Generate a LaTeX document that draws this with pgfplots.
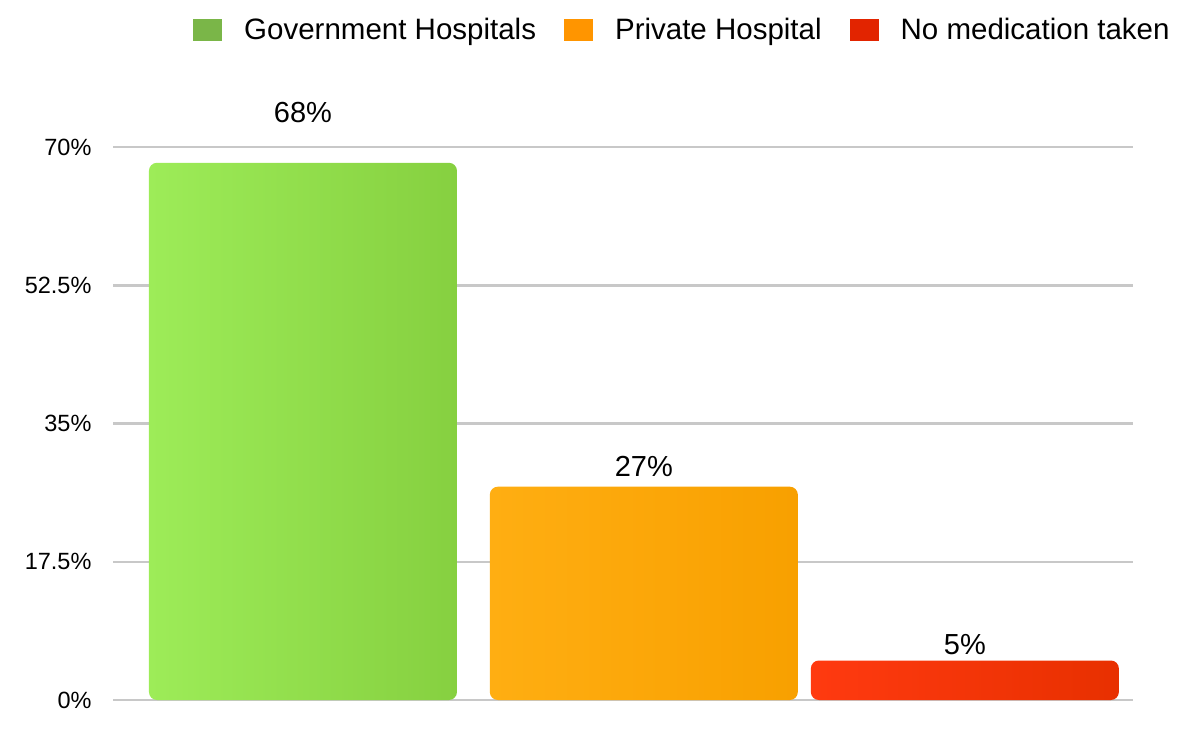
\documentclass[border=0pt]{standalone}
\usepackage{pgfplots}
\pgfplotsset{compat=1.18}
\usepackage{fontspec}
\setmainfont{Liberation Sans}
\definecolor{gbar}{HTML}{9DEC58}
\definecolor{gbardark}{HTML}{86D040}
\definecolor{obar}{HTML}{FFAE12}
\definecolor{obardark}{HTML}{F8A000}
\definecolor{rbar}{HTML}{FF3A10}
\definecolor{rbardark}{HTML}{E83000}
\definecolor{glg}{HTML}{7AB648}
\definecolor{olg}{HTML}{FF9500}
\definecolor{rlg}{HTML}{E22400}
\definecolor{gridc}{HTML}{C8C8C8}
\begin{document}
\begin{tikzpicture}
\useasboundingbox (0,0) rectangle (1178pt,729pt);
\begin{axis}[
  at={(113pt,29pt)}, anchor=south west,
  scale only axis, width=1020pt, height=553pt,
  xmin=-0.574, xmax=2.508, ymin=0, ymax=70,
  axis line style={draw=none},
  clip=false,
  ytick={0,17.5,35,52.5,70},
  yticklabels={0\%,17.5\%,35\%,52.5\%,70\%},
  xtick=\empty,
  ymajorgrids,
  grid style={gridc, line width=2.5pt},
  major tick length=0pt,
  /pgf/number format/assume math mode=true,
  tick label style={font=\fontsize{23.5}{26}\selectfont},
  yticklabel style={xshift=-18pt},
  ybar, bar width=308pt, bar shift=0pt,
  legend style={at={(1.041,1.212)}, anchor=east, draw=none, fill=none,
    font=\fontsize{29.5}{32}\selectfont, legend columns=3,
    /tikz/every odd column/.append style={column sep=20pt},
    /tikz/every even column/.append style={column sep=26pt},
    cells={anchor=west}},
  legend image code/.code={\fill[#1] (0pt,-11pt) rectangle (29pt,11pt);},
  nodes near coords={\pgfmathprintnumber{\pgfplotspointmeta}\%},
  every node near coord/.append style={font=\fontsize{29}{32}\selectfont, anchor=center, text=black},
]
\addlegendimage{fill=glg, draw=none}
\addlegendentry{Government Hospitals}
\addlegendimage{fill=olg, draw=none}
\addlegendentry{Private Hospital}
\addlegendimage{fill=rlg, draw=none}
\addlegendentry{No medication taken}
\addplot[forget plot, draw=none, left color=gbar, right color=gbardark, rounded corners=8pt,
  every node near coord/.append style={yshift=50pt}] coordinates {(0,68)};
\addplot[forget plot, draw=none, left color=obar, right color=obardark, rounded corners=8pt,
  every node near coord/.append style={yshift=20pt}] coordinates {(1.03,27)};
\addplot[forget plot, draw=none, left color=rbar, right color=rbardark, rounded corners=8pt,
  every node near coord/.append style={yshift=16pt}] coordinates {(2,5)};
\end{axis}
\end{tikzpicture}
\end{document}
